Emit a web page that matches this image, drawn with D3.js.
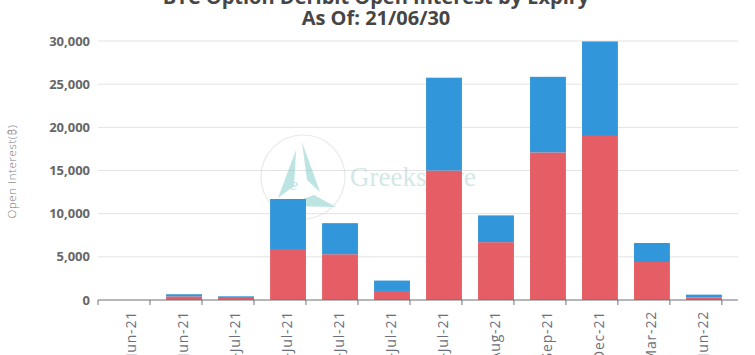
<!DOCTYPE html>
<html>
<head>
<meta charset="utf-8">
<script src="https://cdn.jsdelivr.net/npm/d3@7"></script>
<style>
  body { margin: 0; background: #fff; }
  svg { display: block; font-family: "Open Sans", "Noto Sans", sans-serif; }
</style>
</head>
<body>
<div id="chart"></div>
<script>
const expiries = ["30-Jun-21", "30-Jun-21", "01-Jul-21", "02-Jul-21", "09-Jul-21", "16-Jul-21",
  "30-Jul-21", "27-Aug-21", "24-Sep-21", "31-Dec-21", "25-Mar-22", "24-Jun-22"];
const puts = [0, 420, 350, 5800, 5300, 1050, 15000, 6700, 17100, 19000, 4400, 300];
const calls = [0, 250, 80, 5900, 3600, 1200, 10750, 3100, 8750, 10950, 2200, 320];
const yTicks = [0, 5000, 10000, 15000, 20000, 25000, 30000];
const title = ["BTC Option Deribit Open Interest by Expiry", "As Of: 21/06/30"];

const width = 755, height = 355;
const margin = {top: 41, right: 17, bottom: 55, left: 98};

const svg = d3.select("#chart").append("svg")
  .attr("width", width)
  .attr("height", height);

const x = d3.scaleBand()
  .domain(d3.range(expiries.length))
  .range([margin.left, width - margin.right])
  .padding(0.31);

const y = d3.scaleLinear()
  .domain([0, 30000])
  .range([height - margin.bottom, margin.top]);

// grid lines
svg.append("g")
  .selectAll("line")
  .data(yTicks.slice(1))
  .join("line")
    .attr("x1", margin.left)
    .attr("x2", width - margin.right)
    .attr("y1", d => y(d))
    .attr("y2", d => y(d))
    .attr("stroke", "#e3e3e3");

// watermark
const wm = svg.append("g").attr("opacity", 0.5);
wm.append("circle").attr("cx", 303).attr("cy", 177).attr("r", 42)
  .attr("fill", "none").attr("stroke", "#cfd8d8").attr("stroke-width", 1.2);
wm.append("path").attr("d", "M296,150 L278,198 L294,186 Z").attr("fill", "#7ccac6");
wm.append("path").attr("d", "M302,142 L320,192 L307,180 Z").attr("fill", "#7ccac6");
wm.append("path").attr("d", "M284,206 L336,207 L314,195 Z").attr("fill", "#7ccac6");
wm.append("text").attr("x", 290).attr("y", 190).text("e")
  .attr("font-family", "DejaVu Serif, serif").attr("font-style", "italic")
  .attr("font-size", 14).attr("fill", "#7ccac6");
wm.append("text").attr("x", 350).attr("y", 186).text("GreeksLive")
  .attr("font-family", "Liberation Serif, serif").attr("font-size", 27)
  .attr("fill", "#a9d2cf");

// stacked bars
const stack = d3.stack().keys(["puts", "calls"]);
const rows = expiries.map((e, i) => ({i: i, puts: puts[i], calls: calls[i]}));
const color = d3.scaleOrdinal().domain(["puts", "calls"]).range(["#e55e65", "#3296da"]);

svg.append("g")
  .selectAll("g")
  .data(stack(rows))
  .join("g")
    .attr("fill", d => color(d.key))
  .selectAll("rect")
  .data(d => d)
  .join("rect")
    .attr("x", d => x(d.data.i))
    .attr("y", d => y(d[1]))
    .attr("width", x.bandwidth())
    .attr("height", d => y(d[0]) - y(d[1]));

// x axis
const xAxis = svg.append("g")
  .attr("transform", `translate(0, ${height - margin.bottom})`);
xAxis.append("line")
  .attr("x1", margin.left).attr("x2", width - margin.right)
  .attr("stroke", "#6e7079");
const step = x.step();
xAxis.selectAll(".tk")
  .data(d3.range(expiries.length + 1))
  .join("line")
    .attr("class", "tk")
    .attr("x1", d => margin.left + d * step)
    .attr("x2", d => margin.left + d * step)
    .attr("y2", 5)
    .attr("stroke", "#6e7079");
xAxis.selectAll("text")
  .data(expiries)
  .join("text")
    .attr("transform", (d, i) => `translate(${x(i) + x.bandwidth() / 2 + 4}, 11) rotate(-90)`)
    .attr("text-anchor", "end")
    .attr("font-size", 14)
    .attr("letter-spacing", 0.8)
    .attr("fill", "#6e7079")
    .text(d => d);

// y axis labels
svg.append("g")
  .selectAll("text")
  .data(yTicks)
  .join("text")
    .attr("x", 90)
    .attr("y", d => y(d))
    .attr("dy", "0.35em")
    .attr("text-anchor", "end")
    .attr("font-size", 13)
    .attr("font-weight", "bold")
    .attr("fill", "#666")
    .text(d => d3.format(",")(d));

svg.append("text")
  .attr("transform", `translate(16, ${(margin.top + height - margin.bottom) / 2 + 1}) rotate(-90)`)
  .attr("text-anchor", "middle")
  .attr("font-size", 11.5)
  .attr("letter-spacing", 0.6)
  .attr("font-weight", 300)
  .attr("fill", "#777")
  .text("Open Interest(\u20bf)");

// title
svg.append("g")
  .selectAll("text")
  .data(title)
  .join("text")
    .attr("x", 376)
    .attr("y", (d, i) => 4 + i * 21)
    .attr("text-anchor", "middle")
    .attr("font-size", 20)
    .attr("font-weight", "bold")
    .attr("fill", "#464646")
    .text(d => d);
</script>
</body>
</html>
